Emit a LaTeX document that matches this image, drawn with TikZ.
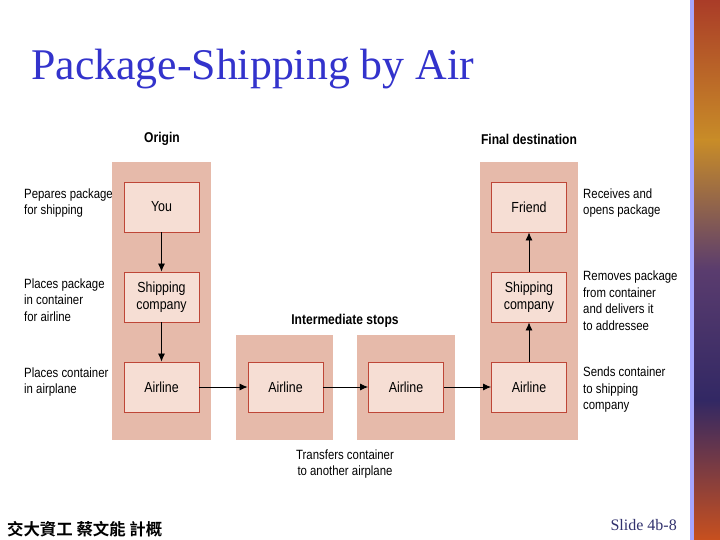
\documentclass[tikz,border=0pt]{standalone}
\usepackage{fontspec}
\setmainfont{Liberation Serif}
\newfontfamily\narrow[FakeStretch=0.85]{Liberation Sans}
\newfontfamily\cjk{Noto Sans CJK TC}[BoldFont={Noto Sans CJK TC Bold}]
\definecolor{titleblue}{RGB}{51,51,204}
\definecolor{colbg}{RGB}{230,186,170}
\definecolor{boxbg}{RGB}{246,222,212}
\definecolor{boxline}{RGB}{190,70,55}
\definecolor{slidecol}{RGB}{50,50,110}
\tikzset{
  colbox/.style={fill=colbg, draw=none},
  inbox/.style={draw=boxline, fill=boxbg, line width=0.9pt, minimum width=75pt, minimum height=50pt, inner sep=0pt, align=center, font=\narrow\fontsize{14.6}{16.5}\selectfont},
  lbl/.style={inner sep=0pt, align=left, anchor=west, font=\narrow\fontsize{13.4}{16.5}\selectfont},
  head/.style={inner sep=0pt, font=\narrow\bfseries\fontsize{14.2}{16}\selectfont},
  arr/.style={-{Latex[length=8pt,width=7pt]}, line width=0.8pt}
}
\usetikzlibrary{arrows.meta}
\begin{document}
\begin{tikzpicture}[x=1pt,y=-1pt]
\useasboundingbox (0,0) rectangle (720,540);
\fill[white] (0,0) rectangle (720,540);
% decorative right strip
\fill[blue!35!white] (690,0) rectangle (694,540);
\shade[top color={rgb,255:red,170;green,60;blue,40}, bottom color={rgb,255:red,200;green,140;blue,40}] (694,0) rectangle (720,140);
\shade[top color={rgb,255:red,200;green,140;blue,40}, bottom color={rgb,255:red,90;green,60;blue,110}] (694,140) rectangle (720,270);
\shade[top color={rgb,255:red,90;green,60;blue,110}, bottom color={rgb,255:red,50;green,40;blue,100}] (694,270) rectangle (720,400);
\shade[top color={rgb,255:red,50;green,40;blue,100}, bottom color={rgb,255:red,200;green,80;blue,30}] (694,400) rectangle (720,540);
% title
\node[anchor=base west, inner sep=0pt, text=titleblue, font=\fontsize{43.8}{44}\selectfont] (title) at (31,80) {Package-Shipping by Air};
% column backgrounds
\fill[colbox] (112,162) rectangle (211,440);
\fill[colbox] (236,335) rectangle (333,440);
\fill[colbox] (357,335) rectangle (455,440);
\fill[colbox] (480,162) rectangle (578,440);
% headings
\node[head] (h1) at (162,139) {Origin};
\node[head] (h2) at (529,139) {Final destination};
\node[head] (h3) at (345,321) {Intermediate stops};
% boxes
\node[inbox] (you) at (161.5,207) {You};
\node[inbox] (ship1) at (161.5,297) {Shipping\\company};
\node[inbox] (air1) at (161.5,387) {Airline};
\node[inbox] (air2) at (285.5,387) {Airline};
\node[inbox] (air3) at (406,387) {Airline};
\node[inbox] (air4) at (529,387) {Airline};
\node[inbox] (ship2) at (529,297) {Shipping\\company};
\node[inbox] (friend) at (529,207) {Friend};
% arrows
\draw[arr] (you) -- (ship1);
\draw[arr] (ship1) -- (air1);
\draw[arr] (air1) -- (air2);
\draw[arr] (air2) -- (air3);
\draw[arr] (air3) -- (air4);
\draw[arr] (air4) -- (ship2);
\draw[arr] (ship2) -- (friend);
% side labels
\node[lbl] (l1) at (24,203) {Pepares package\\for shipping};
\node[lbl] (l2) at (24,300) {Places package\\in container\\for airline};
\node[lbl] (l3) at (24,382) {Places container\\in airplane};
\node[lbl] (r1) at (583,203) {Receives and\\opens package};
\node[lbl] (r2) at (583,300.5) {Removes package\\from container\\and delivers it\\to addressee};
\node[lbl] (r3) at (583,390) {Sends container\\to shipping\\company};
\node[lbl, anchor=center, align=center] (t1) at (345,464) {Transfers container\\to another airplane};
% footer
\node[anchor=base west, inner sep=0pt, font=\cjk\bfseries\fontsize{16.4}{16.4}\selectfont] (foot) at (7,535) {交大資工 蔡文能 計概};
\node[anchor=base east, inner sep=0pt, text=slidecol, font=\fontsize{16}{16}\selectfont] (slide) at (677,530) {Slide 4b-8};
\end{tikzpicture}
\end{document}
